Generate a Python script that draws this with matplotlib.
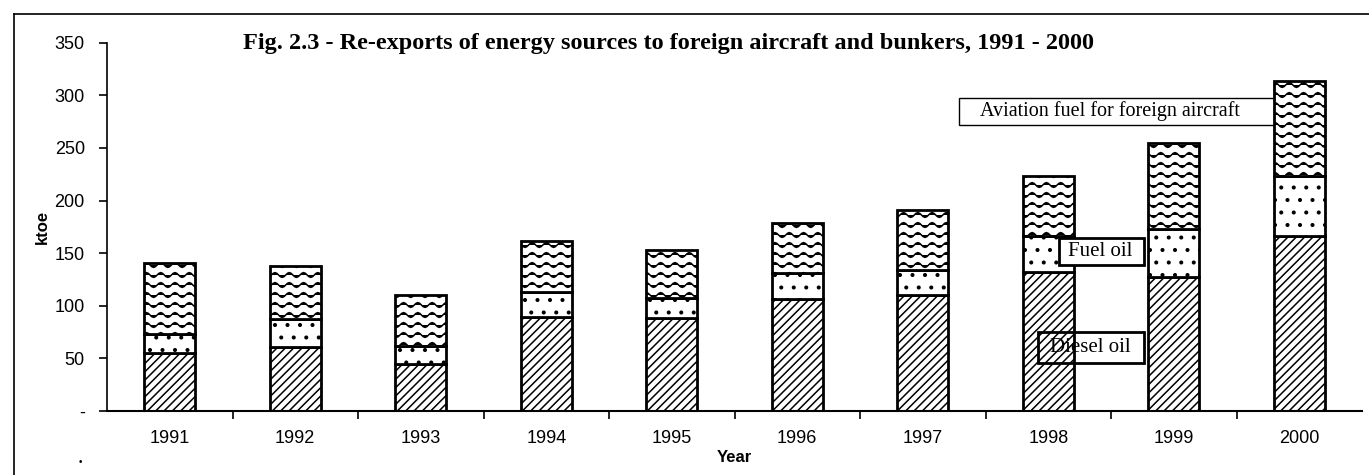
import warnings
import numpy as np
import matplotlib as matplt
matplt.use('Agg')
import matplotlib.pyplot as plt
from matplotlib import hatch as mhatch
from matplotlib.path import Path
from matplotlib.lines import Line2D
from matplotlib.patches import Rectangle

warnings.filterwarnings('ignore')

years = ['1991', '1992', '1993', '1994', '1995', '1996', '1997', '1998', '1999', '2000']
diesel_oil = [55, 61, 45, 89, 88, 106, 110, 132, 127, 166]
fuel_oil = [18, 26, 17, 24, 19, 25, 24, 34, 46, 57]
aviation_fuel = [68, 51, 48, 49, 46, 48, 57, 57, 82, 91]
y_ticks = [0, 50, 100, 150, 200, 250, 300, 350]
y_ticklabels = ['-', '50', '100', '150', '200', '250', '300', '350']


# wavy hatch, matplotlib has none of its own
class WaveHatch(mhatch.HatchPatternBase):
    def __init__(self, hatch, density):
        self.num_lines = int(hatch.count('~') * 5)
        self.npts = 57
        self.num_vertices = self.num_lines * self.npts

    def set_vertices_and_codes(self, vertices, codes):
        t = np.linspace(0, 1, self.npts)
        offs = (np.arange(self.num_lines) + 0.5) / max(self.num_lines, 1)
        k = 0
        for y0 in offs:
            vertices[k:k + self.npts, 0] = t
            vertices[k:k + self.npts, 1] = y0 + 0.024 * np.sin(2 * np.pi * 7 * t)
            codes[k] = Path.MOVETO
            codes[k + 1:k + self.npts] = Path.LINETO
            k += self.npts


# sparser small dots than '.'
class SparseDots(mhatch.Circles):
    size = 0.1
    filled = True

    def __init__(self, hatch, density):
        self.num_rows = hatch.count(':') * 8
        super().__init__(hatch, density)

mhatch._hatch_types.append(WaveHatch)
mhatch._hatch_types.append(SparseDots)

plt.rcParams['font.family'] = ['Liberation Sans', 'DejaVu Sans']
plt.rcParams['hatch.linewidth'] = 1.1

fig = plt.figure(figsize=(13.69, 4.75), dpi=100)
ax = fig.add_axes([107/1369, 1-411/475, (1362-107)/1369, (411-42.7)/475])

x = np.arange(len(years))
d = np.array(diesel_oil)
f = np.array(fuel_oil)
a = np.array(aviation_fuel)
w = 0.41
ax.bar(x, d, w, color='white', edgecolor='black', linewidth=2, hatch='////', zorder=2)
ax.bar(x, f, w, bottom=d, color='white', edgecolor='black', linewidth=2, hatch=':', zorder=2)
ax.bar(x, a, w, bottom=d + f, color='white', edgecolor='black', linewidth=2, hatch='~~', zorder=2)

ax.set_xlim(-0.5, 9.5)
ax.set_ylim(0, 350)
ax.set_yticks(y_ticks)
ax.set_yticklabels(y_ticklabels, fontsize=13)
ax.set_xticks(x)
ax.set_xticklabels(years, fontsize=13)
ax.set_xticks(x[:-1] + 0.5, minor=True)
ax.tick_params(axis='x', which='major', length=0, pad=14)
ax.tick_params(axis='x', which='minor', length=6, width=1.2, direction='out')
ax.tick_params(axis='y', length=6, width=1.2, pad=10)
for s in ['top', 'right']:
    ax.spines[s].set_visible(False)
ax.spines['left'].set_linewidth(1.2)
ax.spines['bottom'].set_linewidth(1.5)

ax.set_ylabel('ktoe', fontsize=12, fontweight='bold', labelpad=3)
ax.set_xlabel('Year', fontsize=12, fontweight='bold', labelpad=2)

fig.text(243/1369, 1-43/475, 'Fig. 2.3 - Re-exports of energy sources to foreign aircraft and bunkers, 1991 - 2000',
         family='Liberation Serif', fontweight='bold', fontsize=17.5, ha='left', va='center')

# label boxes
ax.add_patch(Rectangle((6.287, 271.9), 2.56, 25.6, fc='white', ec='black', lw=1, zorder=1))
ax.text(6.46, 284.7, 'Aviation fuel for foreign aircraft', family='Liberation Serif', fontsize=14.5,
        ha='left', va='center', zorder=1.5)
ax.add_patch(Rectangle((7.084, 138.8), 0.677, 25.6, fc='white', ec='black', lw=2, zorder=4))
ax.text(7.16, 151.6, 'Fuel oil', family='Liberation Serif', fontsize=15,
        ha='left', va='center', zorder=5)
ax.add_patch(Rectangle((6.916, 45.6), 0.845, 29.5, fc='none', ec='black', lw=2, zorder=4))
ax.text(7.01, 60.4, 'Diesel oil', family='Liberation Serif', fontsize=15,
        ha='left', va='center', zorder=5)

# page frame
fig.add_artist(Line2D([14/1369, 14/1369], [0, 1-14/475], color='black', lw=1.2))
fig.add_artist(Line2D([14/1369, 1], [1-14/475, 1-14/475], color='black', lw=1.2))
fig.text(80/1369, 1-462/475, '\u2022', fontsize=7, ha='center', va='center')

fig.savefig('out.png', dpi=100)
